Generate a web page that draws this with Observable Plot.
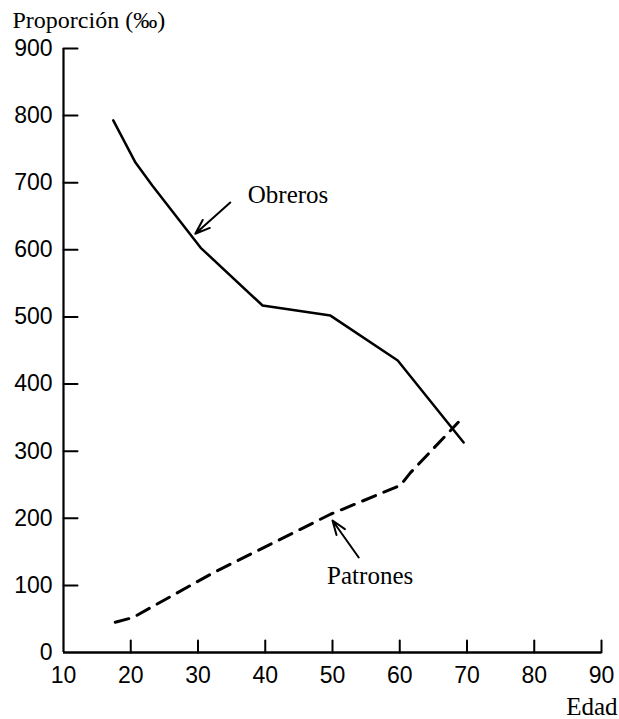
<!DOCTYPE html>
<html>
<head>
<meta charset="utf-8">
<script src="https://cdn.jsdelivr.net/npm/d3@7"></script>
<script src="https://cdn.jsdelivr.net/npm/@observablehq/plot@0.6"></script>
<style>
  html, body { margin: 0; padding: 0; background: #fff; }
  #chart svg { display: block; }
</style>
</head>
<body>
<div id="chart"></div>
<script>
// ---- Data ----
const obrerosEdad = [17.4, 20.7, 23.2, 30.4, 39.6, 49.7, 59.7, 69.5];
const obrerosProp = [793, 730, 696, 603, 517, 502, 435, 313];

const patronesEdad = [17.7, 20.3, 32.3, 39.7, 49.7, 60.1, 61.6, 68.7];
const patronesProp = [45, 52, 119, 156, 206, 249, 268, 343];

const xTickLabels = [10, 20, 30, 40, 50, 60, 70, 80, 90];
const xTickMarks = [20, 30, 40, 50, 60, 70, 80, 90];
const yTickLabels = [0, 100, 200, 300, 400, 500, 600, 700, 800, 900];
const yTickMarks = [100, 200, 300, 400, 500, 600, 700, 800, 900];

const annotTexts = ["Obreros", "Patrones"];
const annotTextX = [37.4, 49.2];
const annotTextY = [682, 114];
const arrowX1 = [34.8, 53.9];
const arrowY1 = [670.6, 141.6];
const arrowX2 = [29.6, 50.0];
const arrowY2 = [624, 196.7];

const yTitle = "Proporción (‰)";
const xTitle = "Edad";

// ---- Build tables ----
const obreros = obrerosEdad.map((e, i) => ({edad: e, prop: obrerosProp[i]}));
const patrones = patronesEdad.map((e, i) => ({edad: e, prop: patronesProp[i]}));
const labels = annotTexts.map((t, i) => ({text: t, x: annotTextX[i], y: annotTextY[i]}));
const arrows = arrowX1.map((x, i) => ({x1: x, y1: arrowY1[i], x2: arrowX2[i], y2: arrowY2[i]}));

const serif = "'Liberation Serif', 'Times New Roman', serif";

// straight tick shape for vectors (no arrow head)
const tickShape = {draw(context, l) { context.moveTo(0, 0); context.lineTo(0, -l); }};

const chart = Plot.plot({
  width: 619,
  height: 719,
  marginLeft: 63,
  marginRight: 18,
  marginTop: 48,
  marginBottom: 67,
  style: {fontFamily: "'Liberation Sans', Arial, sans-serif", fontSize: "23px", color: "#000", background: "#fff"},
  x: {domain: [10, 90]},
  y: {domain: [0, 900]},
  marks: [
    // tick labels
    Plot.axisX(xTickLabels, {tickSize: 0, tickPadding: 14, fontSize: 23, label: null}),
    Plot.axisY(yTickLabels, {tickSize: 0, tickPadding: 11, fontSize: 23, label: null}),
    // inward tick marks
    Plot.vector(xTickMarks, {x: d => d, y: 0, length: 12, rotate: 0, anchor: "start", shape: tickShape, stroke: "#000", strokeWidth: 2}),
    Plot.vector(yTickMarks, {x: 10, y: d => d, length: 14, rotate: 90, anchor: "start", shape: tickShape, stroke: "#000", strokeWidth: 2}),
    // axis lines
    Plot.ruleY([0], {strokeWidth: 2.5}),
    Plot.ruleX([10], {strokeWidth: 2.2}),
    // series
    Plot.line(obreros, {x: "edad", y: "prop", stroke: "#000", strokeWidth: 2.5}),
    Plot.line(patrones, {x: "edad", y: "prop", stroke: "#000", strokeWidth: 3, strokeDasharray: "14,9"}),
    // annotations
    Plot.arrow(arrows, {x1: "x1", y1: "y1", x2: "x2", y2: "y2", stroke: "#000", strokeWidth: 2, headLength: 12, headAngle: 40}),
    Plot.text(labels, {x: "x", y: "y", text: "text", textAnchor: "start", lineAnchor: "middle", fontFamily: serif, fontSize: 25, fill: "#000"}),
    // axis titles
    Plot.text([yTitle], {frameAnchor: "top-left", text: d => d, textAnchor: "start", lineAnchor: "middle", dx: -51, dy: -28, fontFamily: serif, fontSize: 24, fill: "#000"}),
    Plot.text([xTitle], {frameAnchor: "bottom-right", text: d => d, textAnchor: "end", lineAnchor: "middle", dx: 16, dy: 54, fontFamily: serif, fontSize: 25, fill: "#000"})
  ]
});
document.getElementById("chart").appendChild(chart);
</script>
</body>
</html>
